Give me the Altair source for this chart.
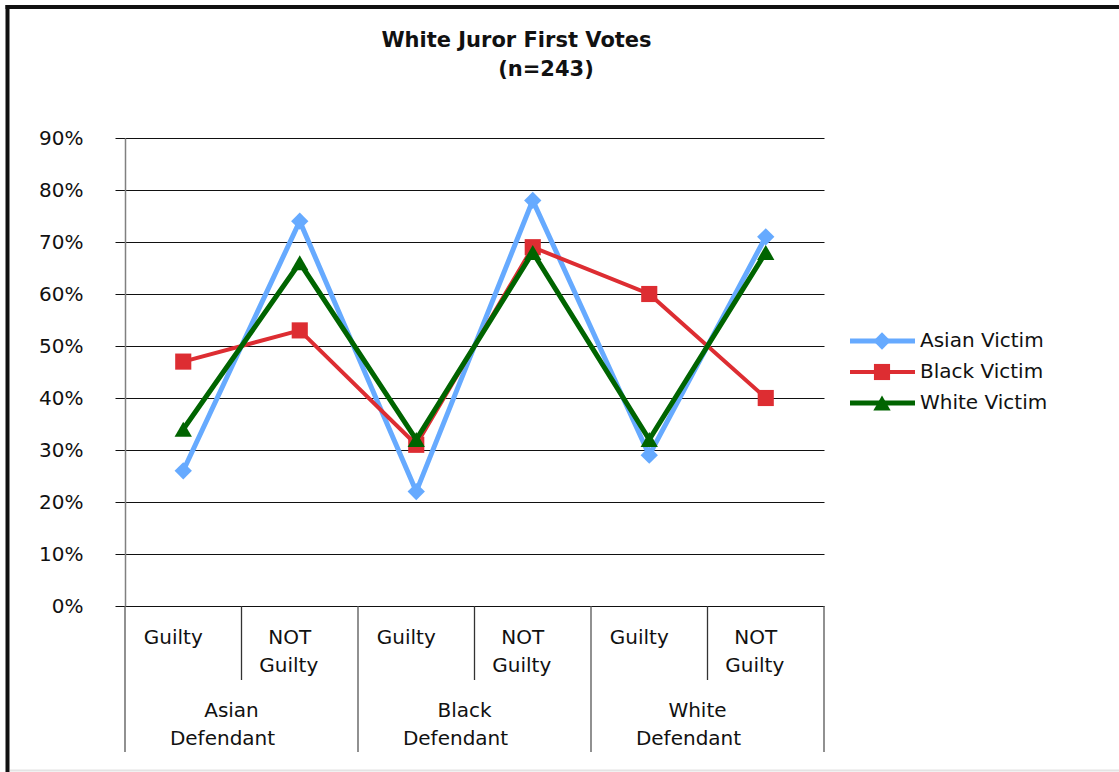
import altair as alt
import pandas as pd

# ---- data -------------------------------------------------------------
positions = [0, 1, 2, 3, 4, 5]
verdict_top = ["Guilty", "NOT", "Guilty", "NOT", "Guilty", "NOT"]
verdict_bottom = ["", "Guilty", "", "Guilty", "", "Guilty"]
defendant_pos = [0.5, 2.5, 4.5]
defendant_top = ["Asian", "Black", "White"]
defendant_bottom = ["Defendant", "Defendant", "Defendant"]

series = ["Asian Victim", "Black Victim", "White Victim"]
asian_victim = [0.26, 0.74, 0.22, 0.78, 0.29, 0.71]
black_victim = [0.47, 0.53, 0.31, 0.69, 0.60, 0.40]
white_victim = [0.34, 0.66, 0.32, 0.68, 0.32, 0.68]

colors = ["#66AAFF", "#DD2D32", "#006400"]
shapes = ["diamond", "square", "triangle-up"]
widths = [5, 4, 5]
marker_sizes = [300, 260, 300]

FONT = "DejaVu Sans"
FS = 20

rows = []
for name, vals in zip(series, [asian_victim, black_victim, white_victim]):
    for p, v in zip(positions, vals):
        rows.append({"pos": p, "series": name, "value": v})
votes = pd.DataFrame(rows)

x_scale = alt.Scale(domain=[-0.5, 5.5], nice=False, zero=False)
y_scale = alt.Scale(domain=[0, 0.9], nice=False)
color_scale = alt.Scale(domain=series, range=colors)

x_enc = alt.X("pos:Q", scale=x_scale, axis=None)
y_enc = alt.Y(
    "value:Q",
    scale=y_scale,
    title=None,
    axis=alt.Axis(
        format=".0%",
        values=[i / 10 for i in range(10)],
        grid=True,
        gridColor="#111111",
        gridWidth=1,
        domainColor="#808080",
        domainWidth=1.5,
        tickColor="#111111",
        tickSize=10,
        labelPadding=32,
        labelFont=FONT,
        labelFontSize=FS,
        labelColor="#111111",
    ),
)

layers = []

# series lines and markers, drawn one series at a time
for i, name in enumerate(series):
    base = alt.Chart(votes).transform_filter(alt.datum.series == name)
    line = base.mark_line(strokeWidth=widths[i]).encode(
        x=x_enc,
        y=y_enc,
        color=alt.Color("series:N", scale=color_scale, legend=None),
    )
    pts = base.mark_point(
        shape=shapes[i], size=marker_sizes[i], filled=True, opacity=1
    ).encode(
        x=x_enc,
        y=alt.Y("value:Q", scale=y_scale),
        color=alt.Color("series:N", scale=color_scale, legend=None),
    )
    layers += [line, pts]

# category separators below the plot
sep_df = pd.DataFrame(
    {
        "pos": [-0.5, 0.5, 1.5, 2.5, 3.5, 4.5, 5.5],
        "major": [True, False, True, False, True, False, True],
    }
)
major_sep = (
    alt.Chart(sep_df)
    .transform_filter(alt.datum.major)
    .mark_rule(color="#555555", strokeWidth=1.3)
    .encode(x=alt.X("pos:Q", scale=x_scale), y=alt.value(468), y2=alt.value(614))
)
minor_sep = (
    alt.Chart(sep_df)
    .transform_filter(~alt.datum.major)
    .mark_rule(color="#333333", strokeWidth=1.3)
    .encode(x=alt.X("pos:Q", scale=x_scale), y=alt.value(468), y2=alt.value(542))
)
layers += [major_sep, minor_sep]

# category labels
verdict_df = pd.DataFrame(
    {"pos": positions, "top": verdict_top, "bottom": verdict_bottom}
)
defendant_df = pd.DataFrame(
    {"pos": defendant_pos, "top": defendant_top, "bottom": defendant_bottom}
)
label_style = dict(font=FONT, fontSize=FS, color="#111111", baseline="middle", align="center")
for df, y_top, y_bot, dx_top, dx_bot in [
    (verdict_df, 500, 528, -10, -11),
    (defendant_df, 573, 601, -10, -19),
]:
    layers.append(
        alt.Chart(df).mark_text(dx=dx_top, **label_style).encode(
            x=alt.X("pos:Q", scale=x_scale), y=alt.value(y_top), text="top:N"
        )
    )
    layers.append(
        alt.Chart(df).mark_text(dx=dx_bot, **label_style).encode(
            x=alt.X("pos:Q", scale=x_scale), y=alt.value(y_bot), text="bottom:N"
        )
    )

# legend
legend_rows = [203, 234, 265]
for i, name in enumerate(series):
    leg = pd.DataFrame({"series": [name]})
    c = alt.Color("series:N", scale=color_scale, legend=None)
    layers.append(
        alt.Chart(leg).mark_rule(strokeWidth=widths[i]).encode(
            x=alt.value(725), x2=alt.value(790), y=alt.value(legend_rows[i]), color=c
        )
    )
    layers.append(
        alt.Chart(leg).mark_point(
            shape=shapes[i], size=marker_sizes[i], filled=True, opacity=1
        ).encode(x=alt.value(757), y=alt.value(legend_rows[i]), color=c)
    )
    layers.append(
        alt.Chart(leg).mark_text(
            font=FONT, fontSize=FS, color="#111111", align="left", baseline="middle"
        ).encode(x=alt.value(795), y=alt.value(legend_rows[i]), text="series:N")
    )

# title lines
title_df = pd.DataFrame({"t": ["White Juror First Votes"]})
sub_df = pd.DataFrame({"t": ["(n=243)"]})
layers.append(
    alt.Chart(title_df).mark_text(
        font=FONT, fontSize=21, fontWeight="bold", color="#111111", baseline="middle"
    ).encode(x=alt.value(391.5), y=alt.value(-97), text="t:N")
)
layers.append(
    alt.Chart(sub_df).mark_text(
        font=FONT, fontSize=21, fontWeight="bold", color="#111111", baseline="middle"
    ).encode(x=alt.value(421), y=alt.value(-68), text="t:N")
)

# outer frame
frame_df = pd.DataFrame({"k": [0]})
layers.append(
    alt.Chart(frame_df).mark_rule(color="#111111", strokeWidth=4).encode(
        x=alt.value(-117.5), y=alt.value(-133), y2=alt.value(634)
    )
)
layers.append(
    alt.Chart(frame_df).mark_rule(color="#111111", strokeWidth=4).encode(
        x=alt.value(-119.5), x2=alt.value(994), y=alt.value(-131)
    )
)
layers.append(
    alt.Chart(frame_df).mark_rule(color="#e4e4e4", strokeWidth=2).encode(
        x=alt.value(-115), x2=alt.value(994), y=alt.value(632.5)
    )
)

chart = (
    alt.layer(*layers)
    .properties(
        width=699,
        height=468,
        autosize=alt.AutoSizeParams(type="none"),
        padding={"left": 125, "top": 138, "right": 295, "bottom": 166},
        background="white",
    )
    .configure_view(stroke=None)
)

chart.save("out.html", embed_options={"renderer": "svg", "actions": False})
